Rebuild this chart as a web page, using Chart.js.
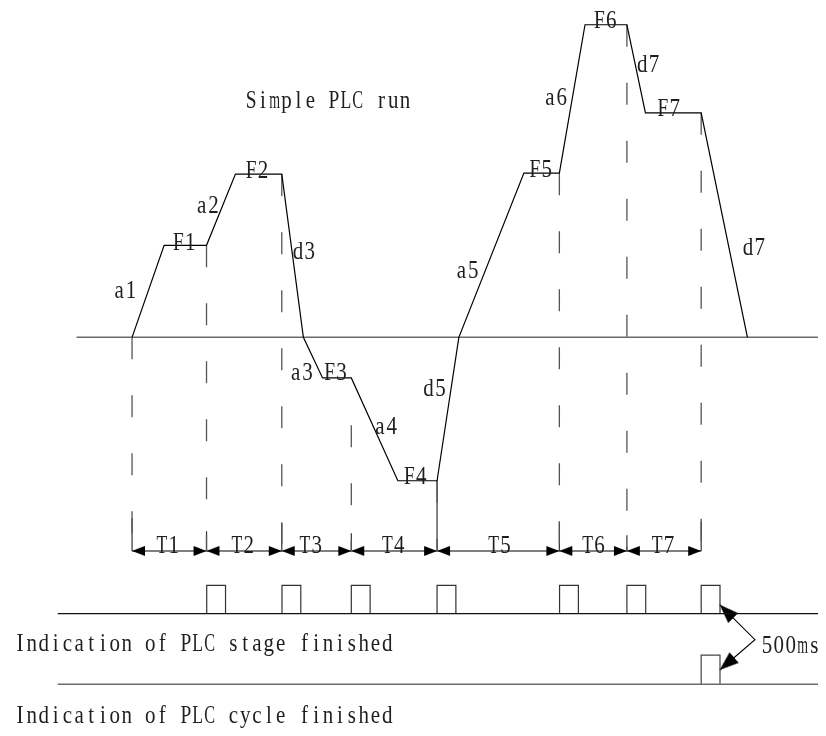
<!DOCTYPE html>
<html>
<head>
<meta charset="utf-8">
<script src="https://cdn.jsdelivr.net/npm/chart.js@4.4.1/dist/chart.umd.min.js"></script>
<style>
  html, body { margin: 0; padding: 0; background: #fff; }
  #wrap { width: 826px; height: 736px; position: relative; }
</style>
</head>
<body>
<div id="wrap"><canvas id="chart"></canvas></div>
<script>
// speed profile (t = time, f = frequency, 0 = the zero line)
const profileT = [129.3, 161.7, 204.5, 233.7, 280.5, 302.3, 321.7, 350.7, 397.7, 437.3, 459.3, 525, 560.8, 586.7, 629, 647.7, 704, 750.7];
const profileF = [0, 93, 93, 165, 165, 0, -41, -41, -145, -145, 0, 166, 166, 316, 316, 227, 227, 0];

// stage boundaries and their guide lines
const stageT = [129.3, 204.5, 280.5, 350.7, 437.3, 560.8, 629, 704];
const dashTopF = [0, 93, 165, -89, -145, 166, 316, 227];
const tickTopF = [-183, -196, -188, -198, -145, -187, -200, -186];
const timeLineF = -216;
const stageNames = ["T1", "T2", "T3", "T4", "T5", "T6", "T7"];
const stageLabelT = [155, 230.7, 299.3, 382.7, 490, 585, 655];

// indication signals
const pulseT = [204.7, 280.7, 350.7, 437.3, 561, 629, 704];
const pulseWidth = 19;
const stageSignal = { from: 54.3, to: 822, low: -279.3, high: -250.7 };
const cycleSignal = { from: 54.3, to: 822, low: -350.7, high: -321.3, at: 704 };
const zeroLine = { from: 73.3, to: 822 };

// 500ms marker
const msVertex = [758.3, -305.7];
const msTipT = [722.7, 722.7];
const msTipF = [-270.3, -336.3];

// text labels (left edge, baseline)
const labelText = ["Simple PLC run", "a1", "F1", "a2", "F2", "d3", "a3", "F3", "a4", "F4", "d5", "a5", "F5", "a6", "F6", "d7", "F7", "d7",
  "500ms", "Indication of PLC stage finished", "Indication of PLC cycle finished"];
const labelT = [245, 111.7, 171.7, 195, 245, 292.3, 290, 324.3, 375, 405, 424.3, 457.3, 531.7, 546.7, 596.7, 640, 661, 746.7,
  766, 11.7, 11.7];
const labelF = [232, 40, 88.7, 125.3, 161.3, 78.7, -43, -43, -97.3, -148.7, -59.7, 60.3, 162, 235.3, 313, 268, 223.7, 83.7,
  -319, -317, -390];

function makeArrow(len, half) {
    const c = document.createElement("canvas");
    c.width = 2 * len + 2;
    c.height = 2 * half + 2;
    const g = c.getContext("2d");
    g.fillStyle = "#000";
    g.beginPath();
    g.moveTo(len + 1, half + 1);
    g.lineTo(1, 1);
    g.lineTo(1, 2 * half + 1);
    g.closePath();
    g.fill();
    return c;
}
const smallArrow = makeArrow(13, 5);
const bigArrow = makeArrow(19, 7);

function withGaps(segments) {
    const out = [];
    segments.forEach(seg => {
        seg.forEach(p => out.push({ x: p[0], y: p[1] }));
        out.push({ x: seg[seg.length - 1][0], y: null });
    });
    return out;
}

// open rectangles sitting on the signal line
function pulses(sig, starts) {
    return withGaps(starts.map(t => [[t, sig.low], [t, sig.high], [t + pulseWidth, sig.high], [t + pulseWidth, sig.low]]));
}

const profile = profileT.map((t, i) => ({ x: t, y: profileF[i] }));
const dashed = withGaps(stageT.map((t, i) => [[t, dashTopF[i]], [t, timeLineF]]));
const ticks = withGaps(stageT.map((t, i) => [[t, tickTopF[i]], [t, timeLineF]]));

const timeArrows = [];
for (let i = 0; i < stageT.length - 1; i++) {
    timeArrows.push({ x: stageT[i], y: timeLineF }, { x: stageT[i + 1], y: timeLineF });
}
const msArrows = msTipT.map((t, i) => ({ x: t, y: msTipF[i] }));
const msAngles = msTipT.map((t, i) => Math.atan2(-(msTipF[i] - msVertex[1]), t - msVertex[0]) * 180 / Math.PI);

// half-width serif text in fixed 12px cells, like the original's SimSun
const labelPlugin = {
    id: "labels",
    afterDatasetsDraw(chart) {
        const { ctx, scales: { x, y } } = chart;
        ctx.save();
        ctx.fillStyle = "#1e1e1e";
        ctx.font = '21px "Liberation Serif"';
        ctx.textBaseline = "alphabetic";
        const cap = ctx.measureText("H").actualBoundingBoxAscent;
        const k = 16.3 / cap;
        const cell = 11.85;
        const draw = (txt, t, f) => {
            const x0 = x.getPixelForValue(t) - 1.5;
            const y0 = y.getPixelForValue(f);
            [...txt].forEach((ch, i) => {
                if (ch === " ") return;
                const w = ctx.measureText(ch).width;
                const sx = Math.min(1, 10.8 / w);
                ctx.save();
                ctx.translate(x0 + i * cell + cell / 2, y0);
                ctx.scale(sx, k);
                ctx.fillText(ch, -w / 2, 0);
                ctx.restore();
            });
        };
        labelText.forEach((txt, i) => draw(txt, labelT[i], labelF[i]));
        stageNames.forEach((txt, i) => draw(txt, stageLabelT[i], timeLineF - 2));
        ctx.restore();
    }
};

const line = (data, color, width, extra) => Object.assign({
    data: data, borderColor: color, borderWidth: width, pointRadius: 0, fill: false, tension: 0, spanGaps: false
}, extra || {});

new Chart(document.getElementById("chart"), {
    type: "line",
    data: {
        datasets: [
            line(profile, "#000", 1.2),
            line([{ x: zeroLine.from, y: 0 }, { x: zeroLine.to, y: 0 }], "#6a6a6a", 1.5),
            line(dashed, "#555", 1.3, { borderDash: [22, 36] }),
            line(ticks, "#333", 1.2),
            line([{ x: stageT[0], y: timeLineF }, { x: stageT[stageT.length - 1], y: timeLineF }], "#000", 1.2),
            line(timeArrows, "#000", 0, {
                showLine: false, pointRadius: 2, pointStyle: smallArrow,
                rotation: c => (c.dataIndex % 2 === 0 ? 180 : 0)
            }),
            line([{ x: stageSignal.from, y: stageSignal.low }, { x: stageSignal.to, y: stageSignal.low }], "#111", 1.3),
            line(pulses(stageSignal, pulseT), "#333", 1.2),
            line([{ x: cycleSignal.from, y: cycleSignal.low }, { x: cycleSignal.to, y: cycleSignal.low }], "#6a6a6a", 1.5),
            line(pulses(cycleSignal, [cycleSignal.at]), "#444", 1.2),
            line([msArrows[0], { x: msVertex[0], y: msVertex[1] }, msArrows[1]], "#000", 1.1),
            line(msArrows, "#000", 0, {
                showLine: false, pointRadius: 2, pointStyle: bigArrow,
                rotation: c => msAngles[c.dataIndex]
            })
        ]
    },
    options: {
        responsive: true,
        maintainAspectRatio: false,
        animation: false,
        layout: { padding: 0 },
        plugins: { legend: { display: false }, tooltip: { enabled: false } },
        scales: {
            x: { type: "linear", min: 0, max: 826, display: false },
            y: { type: "linear", min: -399, max: 337, display: false }
        }
    },
    plugins: [labelPlugin]
});
</script>
</body>
</html>
